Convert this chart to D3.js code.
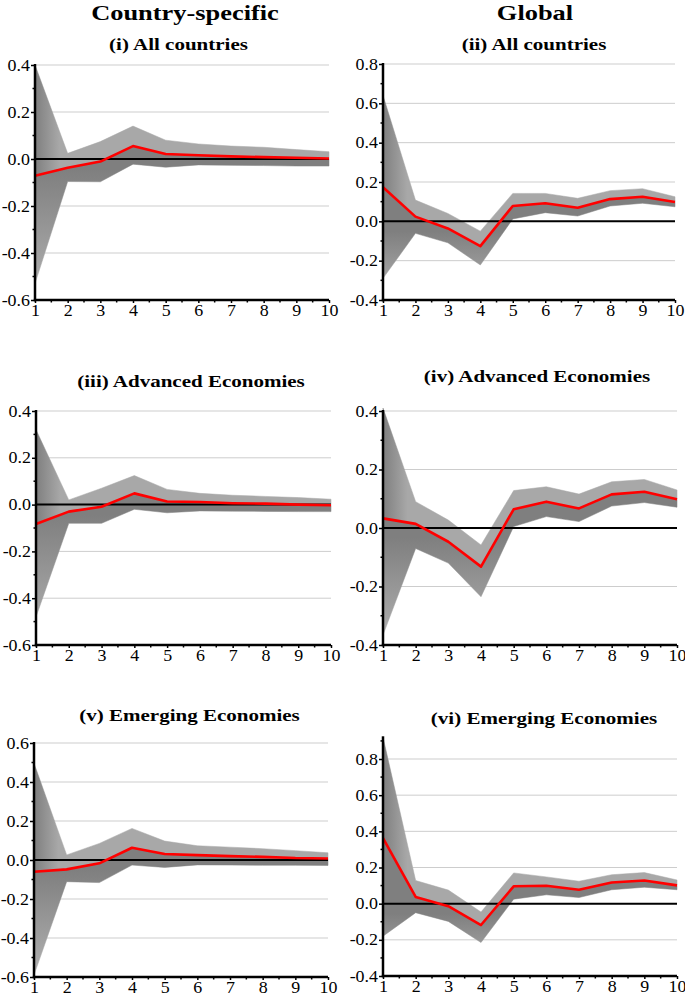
<!DOCTYPE html>
<html>
<head>
<meta charset="utf-8">
<script src="https://cdn.jsdelivr.net/npm/d3@7"></script>
<style>
  html, body { margin: 0; padding: 0; background: #fff; }
  svg { display: block; }
  text { font-family: "Liberation Serif", "Times New Roman", serif; fill: #000; }
</style>
</head>
<body>
<svg id="chart" width="685" height="998"></svg>
<script>
// ---------- data ----------
const horizons = [1, 2, 3, 4, 5, 6, 7, 8, 9, 10];
const columnTitles = ["Country-specific", "Global"];
const panelTitles = ["(i) All countries", "(ii) All countries", "(iii) Advanced Economies",
                     "(iv) Advanced Economies", "(v) Emerging Economies", "(vi) Emerging Economies"];

// (i) Country-specific, all countries
const csAllUpper  = [0.40, 0.024, 0.074, 0.140, 0.080, 0.064, 0.055, 0.050, 0.040, 0.031];
const csAllMedian = [-0.071, -0.037, -0.011, 0.055, 0.021, 0.016, 0.011, 0.008, 0.005, 0.002];
const csAllLower  = [-0.53, -0.096, -0.097, -0.022, -0.035, -0.025, -0.027, -0.028, -0.030, -0.030];
// (ii) Global, all countries
const glAllUpper  = [0.64, 0.108, 0.040, -0.050, 0.142, 0.142, 0.117, 0.156, 0.166, 0.125];
const glAllMedian = [0.173, 0.024, -0.036, -0.126, 0.078, 0.092, 0.069, 0.113, 0.125, 0.098];
const glAllLower  = [-0.29, -0.061, -0.109, -0.222, 0.012, 0.044, 0.027, 0.078, 0.092, 0.074];
// (iii) Country-specific, advanced
const csAdvUpper  = [0.32, 0.020, 0.070, 0.124, 0.065, 0.048, 0.040, 0.035, 0.030, 0.023];
const csAdvMedian = [-0.083, -0.030, -0.009, 0.048, 0.013, 0.011, 0.006, 0.004, 0.000, -0.003];
const csAdvLower  = [-0.48, -0.080, -0.080, -0.020, -0.035, -0.027, -0.028, -0.029, -0.030, -0.030];
// (iv) Global, advanced
const glAdvUpper  = [0.41, 0.090, 0.027, -0.058, 0.128, 0.141, 0.116, 0.158, 0.166, 0.130];
const glAdvMedian = [0.033, 0.014, -0.047, -0.132, 0.064, 0.090, 0.067, 0.115, 0.124, 0.098];
const glAdvLower  = [-0.366, -0.070, -0.120, -0.235, 0.005, 0.039, 0.022, 0.075, 0.087, 0.071];
// (v) Country-specific, emerging
const csEmUpper   = [0.496, 0.026, 0.085, 0.162, 0.097, 0.073, 0.066, 0.058, 0.048, 0.037];
const csEmMedian  = [-0.060, -0.048, -0.017, 0.063, 0.031, 0.025, 0.020, 0.016, 0.010, 0.008];
const csEmLower   = [-0.59, -0.111, -0.116, -0.026, -0.038, -0.025, -0.026, -0.027, -0.027, -0.028];
// (vi) Global, emerging
const glEmUpper   = [0.92, 0.128, 0.075, -0.046, 0.170, 0.148, 0.124, 0.160, 0.172, 0.131];
const glEmMedian  = [0.363, 0.037, -0.014, -0.118, 0.096, 0.099, 0.077, 0.117, 0.128, 0.101];
const glEmLower   = [-0.18, -0.050, -0.098, -0.215, 0.025, 0.049, 0.034, 0.077, 0.091, 0.077];

// y tick values per panel
const yTicksCS  = [-0.6, -0.4, -0.2, 0.0, 0.2, 0.4];
const yTicksGl1 = [-0.4, -0.2, 0.0, 0.2, 0.4, 0.6, 0.8];
const yTicksGl2 = [-0.4, -0.2, 0.0, 0.2, 0.4];
const yTicksCS3 = [-0.6, -0.4, -0.2, 0.0, 0.2, 0.4, 0.6];

// ---------- layout ----------
const STRETCH = 1.2;   // reference type is horizontally widened
const panels = [
  {title: panelTitles[0], up: csAllUpper, med: csAllMedian, lo: csAllLower, ticks: yTicksCS,
   dom: [-0.6, 0.4], x0: 35, x1: 329, yT: 65, yB: 300, tx: 178.5, ty: 50},
  {title: panelTitles[1], up: glAllUpper, med: glAllMedian, lo: glAllLower, ticks: yTicksGl1,
   dom: [-0.4, 0.8], x0: 383, x1: 675, yT: 64, yB: 300, tx: 534, ty: 50},
  {title: panelTitles[2], up: csAdvUpper, med: csAdvMedian, lo: csAdvLower, ticks: yTicksCS,
   dom: [-0.6, 0.4], x0: 36, x1: 331, yT: 411, yB: 645, tx: 191, ty: 387},
  {title: panelTitles[3], up: glAdvUpper, med: glAdvMedian, lo: glAdvLower, ticks: yTicksGl2,
   dom: [-0.4, 0.4], x0: 383, x1: 677, yT: 411, yB: 645, tx: 537, ty: 382},
  {title: panelTitles[4], up: csEmUpper, med: csEmMedian, lo: csEmLower, ticks: yTicksCS3,
   dom: [-0.6, 0.6], x0: 34, x1: 328, yT: 743, yB: 977, tx: 189.5, ty: 721},
  {title: panelTitles[5], up: glEmUpper, med: glEmMedian, lo: glEmLower, ticks: yTicksGl1,
   dom: [-0.4, 0.92], x0: 383, x1: 677, yT: 737.3, yB: 976, tx: 544, ty: 724}
];

const svg = d3.select("#chart");
const defs = svg.append("defs");

function widen(sel, factor) {
  sel.each(function() {
    const w = this.getComputedTextLength();
    d3.select(this).attr("textLength", w * factor).attr("lengthAdjust", "spacingAndGlyphs");
  });
}

// column titles
svg.append("text").attr("x", 185).attr("y", 19.5).attr("text-anchor", "middle")
  .attr("font-size", 22).attr("font-weight", "bold").text(columnTitles[0]).call(widen, STRETCH);
svg.append("text").attr("x", 535).attr("y", 19.5).attr("text-anchor", "middle")
  .attr("font-size", 22).attr("font-weight", "bold").text(columnTitles[1]).call(widen, STRETCH);

const LIGHT = "#a8a8a8", DARK = "#7f7f7f";
const fmt = v => v.toFixed(1);

panels.forEach((p, i) => {
  const x = d3.scaleLinear().domain([1, 10]).range([p.x0, p.x1]);
  const y = d3.scaleLinear().domain(p.dom).range([p.yB, p.yT]);
  const g = svg.append("g");

  // title
  g.append("text").attr("x", p.tx).attr("y", p.ty).attr("text-anchor", "middle")
    .attr("font-size", 17.5).attr("font-weight", "bold").text(p.title).call(widen, STRETCH);

  // gridlines
  g.selectAll("line.grid").data(p.ticks.filter(t => Math.abs(t) > 1e-9 && Math.abs(t - p.dom[0]) > 1e-9))
    .join("line").attr("class", "grid")
    .attr("x1", p.x0).attr("x2", p.x1)
    .attr("y1", d => y(d)).attr("y2", d => y(d))
    .attr("stroke", "#cdcdcd").attr("stroke-width", 1);

  // gradients
  const gu = defs.append("linearGradient").attr("id", "gu" + i)
    .attr("gradientUnits", "userSpaceOnUse")
    .attr("x1", x(1)).attr("x2", x(1.75)).attr("y1", 0).attr("y2", 0);
  gu.append("stop").attr("offset", 0).attr("stop-color", DARK);
  gu.append("stop").attr("offset", 1).attr("stop-color", LIGHT);

  const gl = defs.append("linearGradient").attr("id", "gl" + i)
    .attr("gradientUnits", "userSpaceOnUse")
    .attr("x1", 0).attr("x2", 0).attr("y1", y(0) + 10).attr("y2", p.yB);
  gl.append("stop").attr("offset", 0).attr("stop-color", DARK);
  gl.append("stop").attr("offset", 1).attr("stop-color", "#b2b2b2");

  const upperArea = d3.area().x((d, k) => x(horizons[k]))
    .y0((d, k) => y(p.med[k])).y1((d, k) => y(p.up[k]));
  const lowerArea = d3.area().x((d, k) => x(horizons[k]))
    .y0((d, k) => y(p.lo[k])).y1((d, k) => y(p.med[k]));

  g.append("path").datum(horizons).attr("d", upperArea)
    .attr("fill", `url(#gu${i})`).attr("stroke", `url(#gu${i})`).attr("stroke-width", 0.5);
  g.append("path").datum(horizons).attr("d", lowerArea)
    .attr("fill", `url(#gl${i})`).attr("stroke", `url(#gl${i})`).attr("stroke-width", 0.5);

  // zero line
  g.append("line").attr("x1", p.x0).attr("x2", p.x1)
    .attr("y1", y(0)).attr("y2", y(0)).attr("stroke", "#000").attr("stroke-width", 2);

  // median line
  const line = d3.line().x((d, k) => x(horizons[k])).y((d, k) => y(p.med[k]));
  g.append("path").datum(horizons).attr("d", line)
    .attr("fill", "none").attr("stroke", "#ff0000").attr("stroke-width", 2.6)
    .attr("stroke-linejoin", "round");

  // y axis
  const yAxis = d3.axisLeft(y).tickValues(p.ticks).tickFormat(fmt).tickSize(4).tickSizeOuter(0);
  const ya = g.append("g").attr("transform", `translate(${p.x0},0)`).call(yAxis);
  ya.select(".domain").remove();
  ya.selectAll(".tick line").attr("stroke", "#000").attr("stroke-width", 1.5);
  ya.selectAll(".tick text").attr("font-size", 16).attr("x", -5)
    .attr("font-family", "'Liberation Serif', 'Times New Roman', serif").call(widen, 1.12);
  // y minor ticks
  const minor = d3.range(p.ticks[0] + 0.1, p.dom[1], 0.2);
  g.selectAll("line.ymin").data(minor).join("line").attr("class", "ymin")
    .attr("x1", p.x0 - 2.5).attr("x2", p.x0).attr("y1", d => y(d)).attr("y2", d => y(d))
    .attr("stroke", "#000").attr("stroke-width", 1.5);
  g.append("line").attr("x1", p.x0).attr("x2", p.x0).attr("y1", p.yB + 1.2).attr("y2", p.yT - 1)
    .attr("stroke", "#000").attr("stroke-width", 2.5);

  // x axis
  const xAxis = d3.axisBottom(x).tickValues(horizons).tickFormat(d3.format("d")).tickSize(3).tickSizeOuter(0);
  const xa = g.append("g").attr("transform", `translate(0,${p.yB})`).call(xAxis);
  xa.select(".domain").remove();
  xa.selectAll(".tick line").attr("stroke", "#000").attr("stroke-width", 1.5);
  xa.selectAll(".tick text").attr("font-size", 16).attr("y", 5)
    .attr("font-family", "'Liberation Serif', 'Times New Roman', serif").call(widen, 1.12);
  const xminor = d3.range(1.5, 10, 1);
  g.selectAll("line.xmin").data(xminor).join("line").attr("class", "xmin")
    .attr("x1", d => x(d)).attr("x2", d => x(d)).attr("y1", p.yB).attr("y2", p.yB + 2.5)
    .attr("stroke", "#000").attr("stroke-width", 1.5);
  g.append("line").attr("x1", p.x0 - 1.2).attr("x2", p.x1).attr("y1", p.yB).attr("y2", p.yB)
    .attr("stroke", "#000").attr("stroke-width", 2.5);
});
</script>
</body>
</html>
